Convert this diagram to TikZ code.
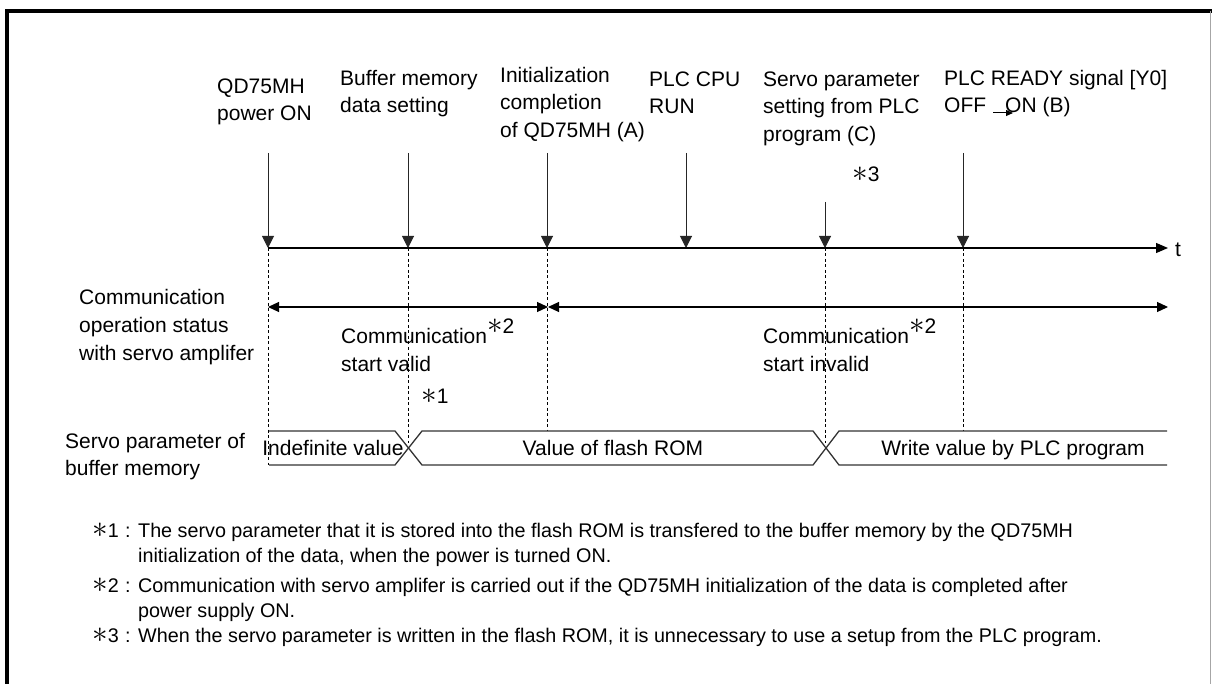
\documentclass[tikz,border=0pt]{standalone}
\usepackage{graphicx}
\usepackage{fontspec}
\setmainfont{Liberation Sans}
\usetikzlibrary{arrows.meta}
\newcommand\mystrut{\rule[-8.25pt]{0pt}{27.5pt}}
\newcommand\fnstrut{\rule[-7.5pt]{0pt}{25.5pt}}
\newcommand\myast{\scalebox{1.5}{$\ast$}}
\newcommand\supast[1]{\smash{\raisebox{10pt}{\myast#1}}}
\begin{document}
\begin{tikzpicture}[x=1pt,y=-1pt,
  lab/.style={anchor=north west, inner sep=0pt, align=left, font=\fontsize{21}{27.5}\selectfont},
  labw/.style={anchor=north west, inner sep=0pt, align=left, font=\fontsize{21}{28}\selectfont},
  single/.style={anchor=base west, inner sep=0pt, font=\fontsize{21}{27.5}\selectfont},
  bustext/.style={anchor=base, inner sep=0pt, font=\fontsize{21}{27.5}\selectfont},
  fnmark/.style={anchor=base west, inner sep=0pt, font=\fontsize{19.75}{25.5}\selectfont},
  fntext/.style={anchor=north west, inner sep=0pt, align=left, font=\fontsize{19.75}{25.5}\selectfont},
  evarrow/.style={draw=black!85, line width=1pt, -{Triangle[length=12pt,width=12pt]}},
  axisline/.style={draw=black, line width=1.2pt, -{Triangle[length=12pt,width=10pt]}},
  commline/.style={draw=black, line width=1.2pt, {Triangle[length=11pt,width=10pt]}-{Triangle[length=11pt,width=10pt]}},
  smallarrow/.style={draw=black, line width=1pt, -{Triangle[length=7pt,width=6pt]}},
  vdot/.style={draw=black, line width=0.9pt, dash pattern=on 3pt off 2.5pt},
  busline/.style={draw=black!80, line width=1.3pt, line join=miter},
  frameline/.style={draw=black, line width=4pt, line cap=butt, line join=miter}
]
\useasboundingbox (0,0) rectangle (1212,684);

% frame
\draw[frameline] (7,684) -- (7,11.3) -- (1212,11.3);
\draw[draw=black!35, line width=0.8pt] (1210.5,11.3) -- (1210.5,684);

% event coordinates on time axis
\coordinate (e1) at (268,248);
\coordinate (e2) at (408,248);
\coordinate (e3) at (547,248);
\coordinate (e4) at (686,248);
\coordinate (e5) at (825,248);
\coordinate (e6) at (963,248);
\coordinate (tend) at (1168,248);
% arrow starts
\coordinate (s1) at (268,153);
\coordinate (s2) at (408,153);
\coordinate (s3) at (547,153);
\coordinate (s4) at (686,153);
\coordinate (s5) at (825,202);
\coordinate (s6) at (963,153);
% levels
\coordinate (bustop) at (0,431);
\coordinate (busmid) at (0,443);
\coordinate (busbot) at (0,465);

% top labels
\node[lab] (l1) at (217,73.75) {\mystrut QD75MH\\power ON};
\node[lab] (l2) at (340,65.75) {\mystrut Buffer memory\\data setting};
\node[lab] (l3) at (500,62.75) {\mystrut Initialization\\completion\\of QD75MH (A)};
\node[lab] (l4) at (649,66.75) {\mystrut PLC CPU\\RUN};
\node[lab] (l5) at (763,66.75) {\mystrut Servo parameter\\setting from PLC\\program (C)};
\node[single] (l6) at (944,86) {PLC READY signal [Y0]};
\node[single] (l6b) at (944,113) {OFF};
\node[single] (l6c) at (1005,113) {ON (B)};
\coordinate (oa) at (993,113);
\coordinate (ob) at (1013,113);
\draw[smallarrow] (oa) -- (ob);
\node[single] (n3) at (852,182) {\myast3};

% event arrows
\draw[evarrow] (s1) -- (e1);
\draw[evarrow] (s2) -- (e2);
\draw[evarrow] (s3) -- (e3);
\draw[evarrow] (s4) -- (e4);
\draw[evarrow] (s5) -- (e5);
\draw[evarrow] (s6) -- (e6);

% time axis
\draw[axisline] (e1) -- (tend);
\node[single] (t) at (1175,257) {t};

% dotted verticals
\draw[vdot] (e1) -- (e1 |- busbot);
\draw[vdot] (e2) -- (e2 |- busmid);
\draw[vdot] (e3) -- (e3 |- bustop);
\draw[vdot] (e5) -- (e5 |- busmid);
\draw[vdot] (e6) -- (e6 |- bustop);

% communication status
\coordinate (ca) at (268,307);
\coordinate (cb) at (548,307);
\coordinate (cc) at (1168,307);
\draw[commline] (ca) -- (cb);
\draw[commline] (cb) -- (cc);
\node[labw] (cs) at (79,284.75) {\mystrut Communication\\operation status\\with servo amplifer};
\node[labw] (cv) at (341,323.75) {\mystrut Communication\supast{2}\\start valid};
\node[labw] (ci) at (763,323.75) {\mystrut Communication\supast{2}\\start invalid};
\node[single] (n1) at (421,403) {\myast1};

% buffer memory bus
\node[lab] (sp) at (65,428.75) {\mystrut Servo parameter of\\buffer memory};
\draw[busline] (269,431) -- (395,431) -- (422,465) -- (813,465) -- (839,431) -- (1167,431);
\draw[busline] (269,465) -- (395,465) -- (422,431) -- (813,431) -- (839,465) -- (1167,465);
\node[bustext] (b1) at (333,455) {Indefinite value};
\node[bustext] (b2) at (613,455) {Value of flash ROM};
\node[bustext] (b3) at (1013,455) {Write value by PLC program};

% footnotes
\node[fnmark] (f1m) at (92,537) {\makebox[33pt][l]{\myast1}:};
\node[fntext] (f1) at (138,519) {\fnstrut The servo parameter that it is stored into the flash ROM is transfered to the buffer memory by the QD75MH\\initialization of the data, when the power is turned ON.};
\node[fnmark] (f2m) at (92,592) {\makebox[33pt][l]{\myast2}:};
\node[fntext] (f2) at (138,574) {\fnstrut Communication with servo amplifer is carried out if the QD75MH initialization of the data is completed after\\power supply ON.};
\node[fnmark] (f3m) at (92,642) {\makebox[33pt][l]{\myast3}:};
\node[fntext] (f3) at (138,624) {\fnstrut When the servo parameter is written in the flash ROM, it is unnecessary to use a setup from the PLC program.};
\end{tikzpicture}
\end{document}
